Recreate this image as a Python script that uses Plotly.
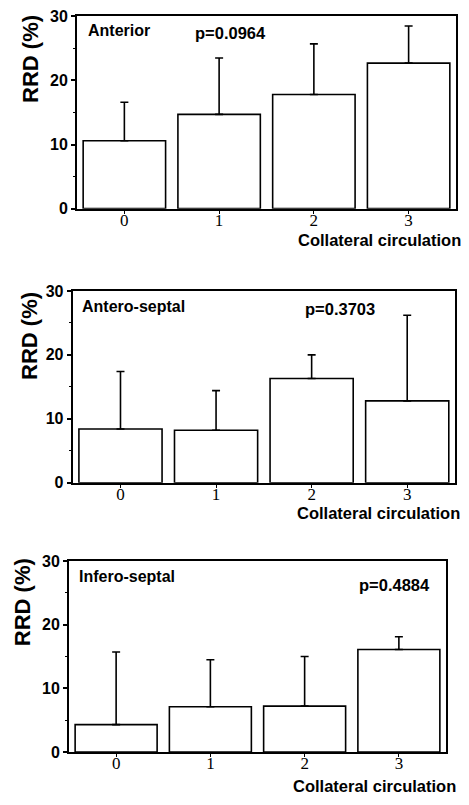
import plotly.graph_objects as go

W, H = 469, 805

categories = ["0", "1", "2", "3"]

anterior_mean = [10.6, 14.7, 17.8, 22.7]
anterior_sd = [6.0, 8.8, 7.9, 5.8]

anteroseptal_mean = [8.4, 8.2, 16.3, 12.8]
anteroseptal_sd = [9.0, 6.2, 3.7, 13.4]

inferoseptal_mean = [4.3, 7.1, 7.2, 16.1]
inferoseptal_sd = [11.4, 7.4, 7.8, 2.0]

panel_names = ["Anterior", "Antero-septal", "Infero-septal"]
p_values = ["p=0.0964", "p=0.3703", "p=0.4884"]
y_ticks = [0, 10, 20, 30]
x_title = "Collateral circulation"
y_title = "RRD (%)"

means = [anterior_mean, anteroseptal_mean, inferoseptal_mean]
sds = [anterior_sd, anteroseptal_sd, inferoseptal_sd]

# layout geometry in pixels: (left, right, top, bottom)
boxes = [(77, 456, 8.5, 205), (72.7, 455, 289, 485), (69, 446, 565, 760)]
name_pos = [(86, 23), (80, 305), (77, 581)]
p_pos = [(193, 26), (303, 308), (357, 589)]
xtitle_pos = [(463, 237), (462, 516), (458, 795)]
ytitle_pos = [(31, 52), (30, 335), (22, 607)]

def px(x):
    return x / W

def py(y):
    return 1 - y / H

SANS = "Liberation Sans"
SERIF = "Liberation Serif"

fig = go.Figure()
layout = dict(
    width=W, height=H,
    margin=dict(l=0, r=0, t=0, b=0),
    paper_bgcolor="white", plot_bgcolor="white",
    showlegend=False, bargap=0.13,
    annotations=[],
)

for i in range(3):
    sfx = "" if i == 0 else str(i + 1)
    fig.add_trace(go.Bar(
        x=categories, y=means[i],
        xaxis="x" + sfx, yaxis="y" + sfx,
        marker=dict(color="white", line=dict(color="black", width=1.6)),
        error_y=dict(type="data", symmetric=False, array=sds[i],
                     arrayminus=[0] * 4, color="black", thickness=1.6, width=4),
    ))
    l, r, t, b = boxes[i]
    layout["xaxis" + sfx] = dict(
        domain=[px(l), px(r)], anchor="y" + sfx,
        type="category", range=[-0.5, 3.5],
        showline=True, linecolor="black", linewidth=2, mirror=True,
        ticks="outside", ticklen=3, tickwidth=1.2, tickcolor="black",
        ticklabelstandoff=-8,
        tickfont=dict(family=SERIF, size=17, color="black"),
        showgrid=False, zeroline=False, fixedrange=True,
    )
    layout["yaxis" + sfx] = dict(
        domain=[py(b), py(t)], anchor="x" + sfx,
        range=[0, 30], tickvals=y_ticks,
        showline=True, linecolor="black", linewidth=2, mirror=True,
        ticks="outside", ticklen=4, tickwidth=1.5, tickcolor="black",
        minor=dict(dtick=5, ticks="outside", ticklen=2, tickwidth=1.2, tickcolor="black"),
        tickfont=dict(family=SANS, size=16, color="black", weight="bold"),
        showgrid=False, zeroline=False, fixedrange=True,
    )
    layout["annotations"] += [
        dict(text=panel_names[i], xref="paper", yref="paper",
             x=px(name_pos[i][0]), y=py(name_pos[i][1]),
             xanchor="left", yanchor="middle", showarrow=False,
             font=dict(family=SANS, size=16, color="black", weight="bold")),
        dict(text=p_values[i], xref="paper", yref="paper",
             x=px(p_pos[i][0]), y=py(p_pos[i][1]),
             xanchor="left", yanchor="middle", showarrow=False,
             font=dict(family=SANS, size=16.5, color="black", weight="bold")),
        dict(text=x_title, xref="paper", yref="paper",
             x=px(xtitle_pos[i][0]), y=py(xtitle_pos[i][1]),
             xanchor="right", yanchor="middle", showarrow=False,
             font=dict(family=SANS, size=16.5, color="black", weight="bold")),
        dict(text=y_title, xref="paper", yref="paper", textangle=-90,
             x=px(ytitle_pos[i][0]), y=py(ytitle_pos[i][1]),
             xanchor="center", yanchor="middle", showarrow=False,
             font=dict(family=SANS, size=22, color="black", weight="bold")),
    ]

fig.update_layout(**layout)
fig.write_html("out.html")
